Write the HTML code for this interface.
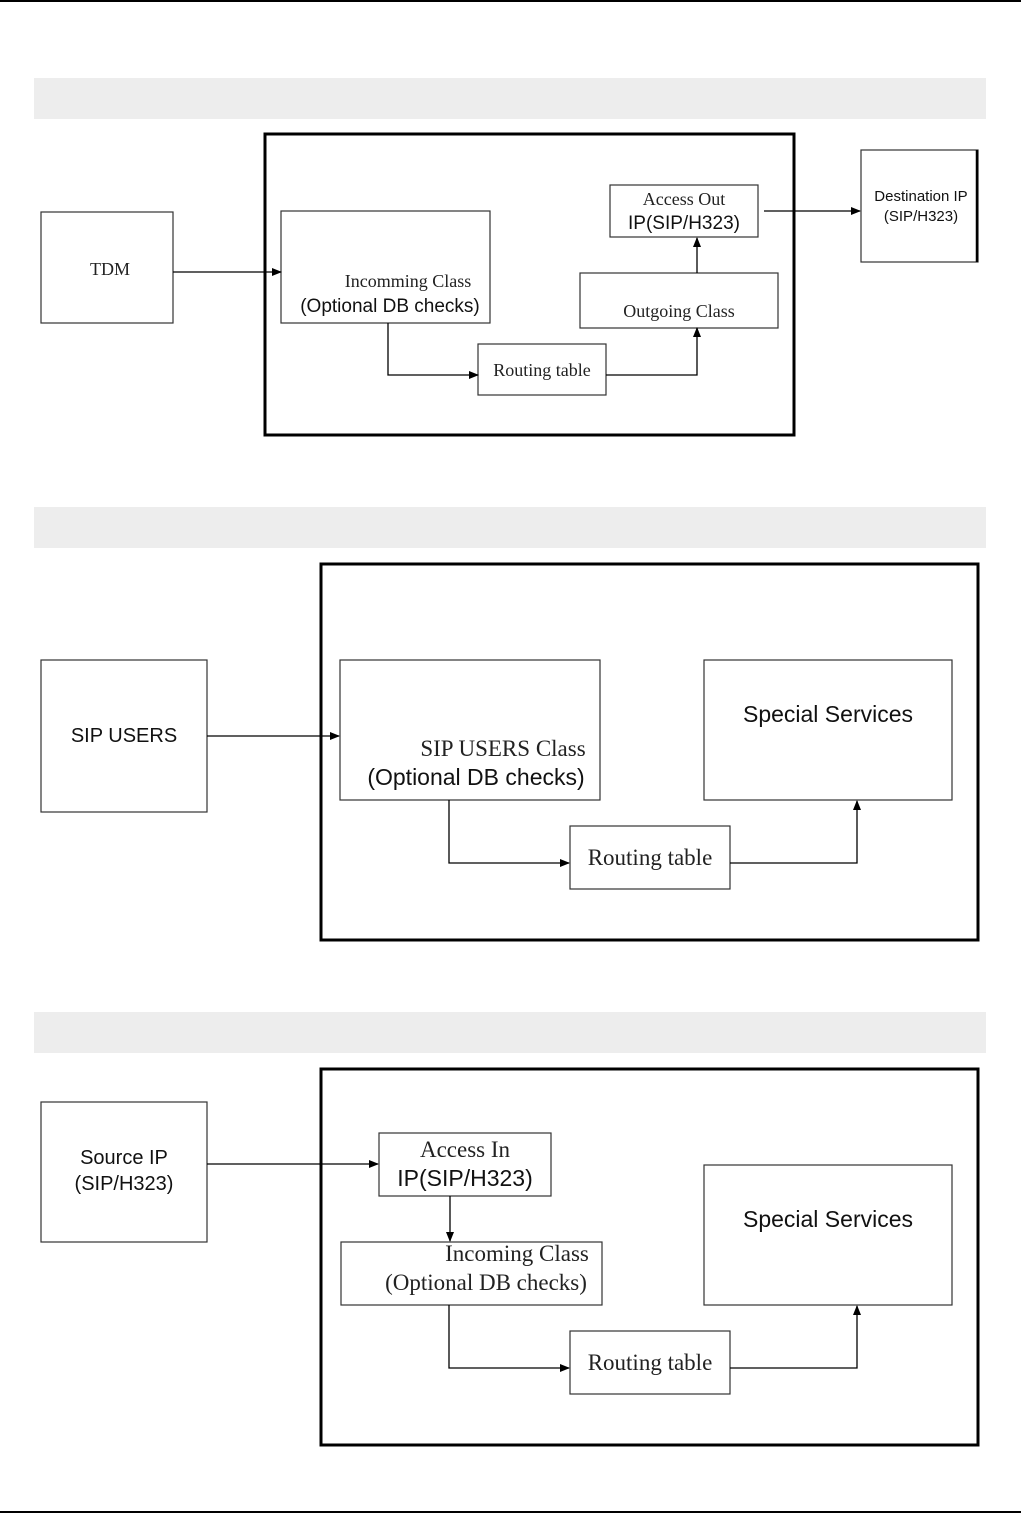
<!DOCTYPE html>
<html><head><meta charset="utf-8"><style>
html,body{margin:0;padding:0;background:#fff}
svg{display:block}
.s{font-family:"Liberation Serif",serif;fill:#222}
.a{font-family:"Liberation Sans",sans-serif;fill:#111}
</style></head><body>
<svg width="1021" height="1514" viewBox="0 0 1021 1514" xmlns="http://www.w3.org/2000/svg">
<defs><marker id="ar" markerWidth="10" markerHeight="8" refX="9" refY="4" orient="auto" markerUnits="userSpaceOnUse"><path d="M0,0 L10,4 L0,8 z" fill="#000"/></marker></defs>
<line x1="0" y1="1" x2="1021" y2="1" stroke="#000" stroke-width="2"/>
<line x1="0" y1="1512" x2="1021" y2="1512" stroke="#000" stroke-width="2"/>
<rect x="34" y="78" width="952" height="41" fill="#ededed"/>
<rect x="34" y="507" width="952" height="41" fill="#ededed"/>
<rect x="34" y="1012" width="952" height="41" fill="#ededed"/>
<g fill="none" stroke="#333" stroke-width="1.2">
<!-- diagram 1 -->
<rect x="41" y="212" width="132" height="111"/>
<rect x="281" y="211" width="209" height="112"/>
<rect x="610" y="185" width="148" height="52"/>
<rect x="580" y="273" width="198" height="55"/>
<rect x="478" y="344" width="128" height="51"/>
<rect x="861" y="150" width="117" height="112"/>
<!-- diagram 2 -->
<rect x="41" y="660" width="166" height="152"/>
<rect x="340" y="660" width="260" height="140"/>
<rect x="704" y="660" width="248" height="140"/>
<rect x="570" y="826" width="160" height="63"/>
<!-- diagram 3 -->
<rect x="41" y="1102" width="166" height="140"/>
<rect x="379" y="1133" width="172" height="63"/>
<rect x="341" y="1242" width="261" height="63"/>
<rect x="704" y="1165" width="248" height="140"/>
<rect x="570" y="1331" width="160" height="63"/>
</g>
<g fill="none" stroke="#000" stroke-width="3">
<rect x="265" y="134" width="529" height="301"/>
<rect x="321" y="564" width="657" height="376"/>
<rect x="321" y="1069" width="657" height="376"/>
</g>
<line x1="977" y1="150" x2="977" y2="262" stroke="#000" stroke-width="2.5"/>
<g fill="none" stroke="#000" stroke-width="1.3" marker-end="url(#ar)">
<path d="M173 272 H281"/>
<path d="M388 323 V375 H478"/>
<path d="M606 375 H697 V328"/>
<path d="M697 273 V245 V238"/>
<path d="M764 211 H860"/>
<path d="M207 736 H339"/>
<path d="M449 800 V863 H569"/>
<path d="M730 863 H857 V801"/>
<path d="M207 1164 H378"/>
<path d="M450 1196 V1241"/>
<path d="M449 1305 V1368 H569"/>
<path d="M730 1368 H857 V1306"/>
</g>
<g>
<text x="110" y="275" class="s" font-size="18" text-anchor="middle">TDM</text>
<text x="408" y="287" class="s" font-size="18" text-anchor="middle">Incomming Class</text>
<text x="390" y="312" class="a" font-size="19" text-anchor="middle">(Optional DB checks)</text>
<text x="684" y="205" class="s" font-size="18" text-anchor="middle">Access Out</text>
<text x="684" y="229" class="a" font-size="19" text-anchor="middle">IP(SIP/H323)</text>
<text x="679" y="317" class="s" font-size="18" text-anchor="middle">Outgoing Class</text>
<text x="542" y="376" class="s" font-size="18" text-anchor="middle">Routing table</text>
<text x="921" y="201" class="a" font-size="15" text-anchor="middle">Destination IP</text>
<text x="921" y="221" class="a" font-size="15" text-anchor="middle">(SIP/H323)</text>

<text x="124" y="742" class="a" font-size="20" text-anchor="middle">SIP USERS</text>
<text x="503" y="756" class="s" font-size="23" text-anchor="middle">SIP USERS Class</text>
<text x="476" y="785" class="a" font-size="23" text-anchor="middle">(Optional DB checks)</text>
<text x="828" y="722" class="a" font-size="23" text-anchor="middle">Special Services</text>
<text x="650" y="865" class="s" font-size="23" text-anchor="middle">Routing table</text>

<text x="124" y="1164" class="a" font-size="20" text-anchor="middle">Source IP</text>
<text x="124" y="1190" class="a" font-size="20" text-anchor="middle">(SIP/H323)</text>
<text x="465" y="1157" class="s" font-size="23" text-anchor="middle">Access In</text>
<text x="465" y="1186" class="a" font-size="23" text-anchor="middle">IP(SIP/H323)</text>
<text x="517" y="1261" class="s" font-size="23" text-anchor="middle">Incoming Class</text>
<text x="486" y="1290" class="s" font-size="23" text-anchor="middle">(Optional DB checks)</text>
<text x="828" y="1227" class="a" font-size="23" text-anchor="middle">Special Services</text>
<text x="650" y="1370" class="s" font-size="23" text-anchor="middle">Routing table</text>
</g>
</svg>
</body></html>
